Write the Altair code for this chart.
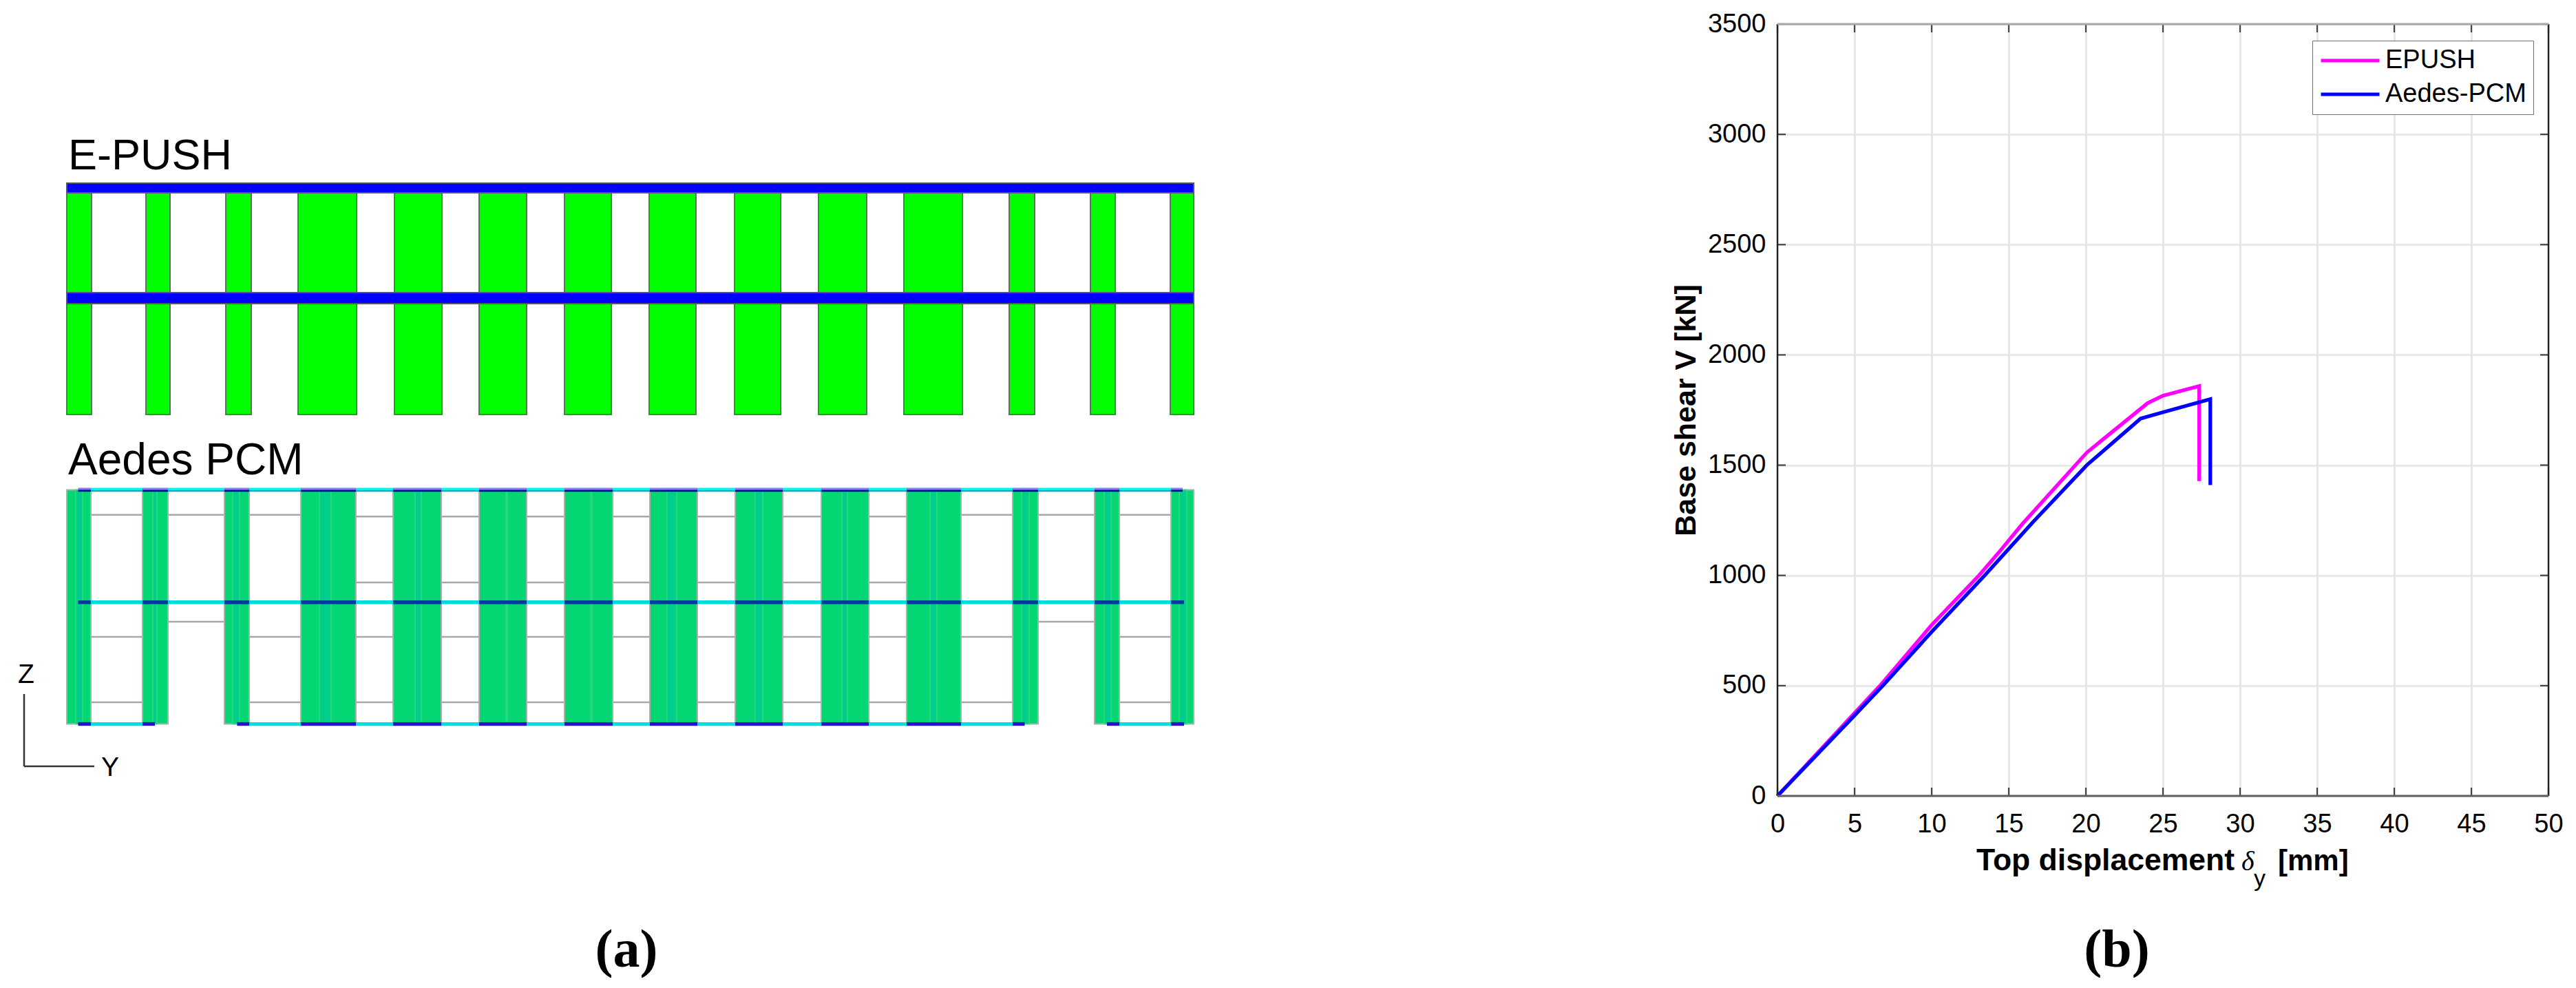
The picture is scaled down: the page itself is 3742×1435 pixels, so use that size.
import altair as alt
import pandas as pd

# ---------- values ----------
# right panel: pushover curves (mm, kN)
epush_d = [0, 6.65, 10, 13.07, 14.4, 15.9, 20.06, 24, 25, 27.35, 27.35]
epush_v = [0, 500, 775, 1000, 1108, 1235, 1557, 1781, 1815, 1859, 1428]
aedes_d = [0, 5, 6.83, 10, 13.44, 16.56, 20.06, 23.55, 25, 28.07, 28.07]
aedes_v = [0, 365, 500, 744, 1000, 1241, 1500, 1711, 1740, 1799, 1410]
x_ticks = [0, 5, 10, 15, 20, 25, 30, 35, 40, 45, 50]
y_ticks = [0, 500, 1000, 1500, 2000, 2500, 3000, 3500]

# left panel, E-PUSH elevation (picture units)
ep_left = [97, 212, 328, 433, 573, 696, 820, 943, 1067, 1189, 1313, 1466, 1584, 1700]
ep_right = [133, 247, 365, 518, 642, 765, 888, 1011, 1134, 1259, 1398, 1503, 1620, 1734]
ep_bot = [601]
ep_beam_x = [97, 1734]
ep_beam_top = [265, 424]
ep_beam_bot = [279, 440]

# left panel, Aedes PCM elevation (picture units)
ae_left = [97, 207, 326, 437, 571, 696, 820, 944, 1068, 1193, 1317, 1471, 1590, 1701]
ae_right = [132, 244, 362, 517, 641, 765, 890, 1013, 1137, 1262, 1396, 1508, 1626, 1734]
ae_top = 710.4
ae_bot = 1050.4
strip_left = [110, 222, 338, 464, 603, 735, 858, 969, 1097, 1223, 1351, 1484, 1604, 1713]
strip_right = [120, 228, 348, 481, 612, 737, 860, 983, 1108, 1231, 1361, 1495, 1614, 1724]
# lintel lines: level, span indices (span i lies between walls i and i+1)
lintels = [(746.8, [0, 1, 2, 10, 11, 12]), (749.3, [3, 4, 5, 6, 7, 8, 9]),
           (845, [3, 4, 5, 6, 7, 8, 9]), (902.1, [1, 11]),
           (923.9, [0, 2, 3, 4, 5, 6, 7, 8, 9, 10, 12]),
           (1018.9, [0, 2, 3, 4, 5, 6, 7, 8, 9, 10, 12])]
beam_top_spans = [(113.5, 1718)]
beam_mid_spans = [(113.5, 1720)]
beam_bot_spans = [(113.5, 225), (344.4, 1488.5), (1608, 1720)]

FONT = "Liberation Sans"
SERIF = "Liberation Serif"
PAD_TOP = 8
LEFT_W = 2420
LEFT_H = 1385
PY0 = 34
sx = alt.Scale(domain=[8, 8 + LEFT_W], nice=False)
sy = alt.Scale(domain=[PY0 + LEFT_H, PY0], nice=False)


def rects(rows, **kw):
    df = pd.DataFrame(rows, columns=["x", "x2", "y", "y2", "c"])
    return alt.Chart(df).mark_rect(**kw).encode(
        x=alt.X("x:Q", scale=sx, axis=None), x2="x2:Q",
        y=alt.Y("y:Q", scale=sy, axis=None), y2="y2:Q",
        color=alt.Color("c:N", scale=None, legend=None))


def segments(spans, y0, y1, light, dark):
    rows = []
    for a, b in spans:
        cursor = a
        for l, r in zip(ae_left, ae_right):
            lo, hi = max(l, a), min(r, b)
            if hi <= lo:
                continue
            if lo > cursor:
                rows.append((cursor, lo, y0, y1, light))
            rows.append((lo, hi, y0, y1, dark))
            cursor = hi
        if cursor < b:
            rows.append((cursor, b, y0, y1, light))
    return rows


def seg_lines(rows, color, width):
    df = pd.DataFrame(rows, columns=["x", "x2", "y", "y2"])
    return alt.Chart(df).mark_rule(color=color, strokeWidth=width).encode(
        x=alt.X("x:Q", scale=sx, axis=None), x2="x2:Q",
        y=alt.Y("y:Q", scale=sy, axis=None), y2="y2:Q")


def left_text(text, x, y, size, weight="normal", font=FONT, align="left"):
    df = pd.DataFrame({"t": [text], "x": [x], "y": [y]})
    return alt.Chart(df).mark_text(font=font, fontSize=size, fontWeight=weight, align=align,
                                   baseline="alphabetic", color="black").encode(
        x=alt.X("x:Q", scale=sx, axis=None), y=alt.Y("y:Q", scale=sy, axis=None), text="t:N")


ep_cols = rects([(l, r, 270, ep_bot[0], "#00ff00") for l, r in zip(ep_left, ep_right)],
                stroke="#4c7f4c", strokeWidth=2)
ep_beams = rects([(ep_beam_x[0], ep_beam_x[1], t, b, "#0000ff")
                  for t, b in zip(ep_beam_top, ep_beam_bot)],
                 stroke="#55556f", strokeWidth=2)

lintel_rows = [(ae_right[i], ae_left[i + 1], lv, lv) for lv, idx in lintels for i in idx]
ae_lintels = seg_lines(lintel_rows, "#a8a8a8", 2.5)
ae_cols = rects([(l, r, ae_top, ae_bot, "#03d672") for l, r in zip(ae_left, ae_right)],
                stroke="#aab3ab", strokeWidth=2)
ae_strips = rects([(l, r, ae_top, ae_bot, "#00cf8c") for l, r in zip(strip_left, strip_right)],
                  stroke="#2fdc7c", strokeWidth=1.5)
beam_rows = (segments(beam_top_spans, 707.5, 710.4, "#00f5f5", "#8080f0")
             + segments(beam_top_spans, 710.4, 713.2, "#00b4b4", "#0a0a9c")
             + segments(beam_mid_spans, 871, 876.4, "#00dcdc", "#003c9c")
             + segments(beam_bot_spans, 1047.9, 1053.2, "#00e0e0", "#2a10d0"))
ae_beams = rects(beam_rows)

axes_lines = seg_lines([(35, 35, 1007, 1112), (35, 137, 1112, 1112)], "#333333", 2.5)

left = alt.layer(
    ep_cols, ep_beams, ae_lintels, ae_cols, ae_strips, ae_beams, axes_lines,
    left_text("E-PUSH", 99, 245, 63),
    left_text("Aedes PCM", 99, 688, 64),
    left_text("Z", 26, 991, 39),
    left_text("Y", 147, 1126, 39),
    left_text("(a)", 910, 1403, 78, "bold", SERIF, "center"),
).properties(width=LEFT_W, height=LEFT_H)

# ---------- right panel ----------
curves = pd.DataFrame(
    [{"s": "EPUSH", "i": i, "d": d, "v": v} for i, (d, v) in enumerate(zip(epush_d, epush_v))]
    + [{"s": "Aedes-PCM", "i": i, "d": d, "v": v} for i, (d, v) in enumerate(zip(aedes_d, aedes_v))])
PW, PH = 1120, 1121
xs = alt.Scale(domain=[0, 50], nice=False)
ys = alt.Scale(domain=[0, 3500], nice=False)
x_axis = alt.Axis(values=x_ticks, grid=True, gridColor="#e2e2e2", gridWidth=2.5, ticks=False, domain=False,
                  labelFont=FONT, labelFontSize=38, labelColor="black", labelPadding=22, title=None,
                  labelFlush=False)
y_axis = alt.Axis(values=y_ticks, grid=True, gridColor="#e6e6e6", gridWidth=2.5, ticks=False, domain=False,
                  format="d", labelFont=FONT, labelFontSize=38, labelColor="black", labelPadding=17,
                  title="Base shear V [kN]", titleFont=FONT, titleFontSize=43, titleFontWeight="bold",
                  titleColor="black", titlePadding=9)

lines = alt.Chart(curves).mark_line(strokeWidth=5.3, strokeCap="butt", strokeJoin="miter", clip=False).encode(
    x=alt.X("d:Q", scale=xs, axis=x_axis),
    y=alt.Y("v:Q", scale=ys, axis=y_axis),
    order="i:Q",
    color=alt.Color("s:N",
                    scale=alt.Scale(domain=["EPUSH", "Aedes-PCM"], range=["#ff00ff", "#0000ff"]),
                    sort=["EPUSH", "Aedes-PCM"],
                    legend=alt.Legend(orient="none", legendX=777, legendY=24, title=None,
                                      symbolType="stroke", symbolSize=7225, symbolStrokeWidth=5,
                                      labelFont=FONT, labelFontSize=38, labelColor="black", labelLimit=400,
                                      strokeColor="#707070", fillColor="white", padding=10,
                                      clipHeight=38, rowPadding=11, labelOffset=6)))

xt = pd.DataFrame({"x": x_ticks})
yt = pd.DataFrame({"y": y_ticks})
tick_kw = dict(color="#444444", strokeWidth=2.2)
ticks = [
    alt.Chart(yt).mark_rule(**tick_kw).encode(y=alt.Y("y:Q", scale=ys, axis=y_axis), x=alt.value(0), x2=alt.value(12)),
    alt.Chart(yt).mark_rule(**tick_kw).encode(y=alt.Y("y:Q", scale=ys, axis=y_axis), x=alt.value(PW - 12), x2=alt.value(PW)),
    alt.Chart(xt).mark_rule(**tick_kw).encode(x=alt.X("x:Q", scale=xs, axis=x_axis), y=alt.value(0), y2=alt.value(12)),
    alt.Chart(xt).mark_rule(**tick_kw).encode(x=alt.X("x:Q", scale=xs, axis=x_axis), y=alt.value(PH - 12), y2=alt.value(PH)),
]
box_df = pd.DataFrame({"k": [0]})
def edge(color, width, **enc):
    return alt.Chart(box_df).mark_rule(color=color, strokeWidth=width).encode(**enc)
box = [
    edge("#222222", 2.4, x=alt.value(0), y=alt.value(0), y2=alt.value(PH)),
    edge("#222222", 2.4, x=alt.value(PW), y=alt.value(0), y2=alt.value(PH)),
    edge("#a8a8a8", 3, y=alt.value(0), x=alt.value(0), x2=alt.value(PW)),
    edge("#606060", 3, y=alt.value(PH), x=alt.value(0), x2=alt.value(PW)),
]


def right_text(text, x, y, size, weight="normal", style="normal", font=FONT, align="left"):
    df = pd.DataFrame({"t": [text]})
    return alt.Chart(df).mark_text(font=font, fontSize=size, fontWeight=weight, fontStyle=style, align=align,
                                   baseline="alphabetic", color="black").encode(
        x=alt.value(x), y=alt.value(y), text="t:N")


PX0 = 2584
texts = [
    right_text("Top displacement", 2873 - PX0, 1263 - PY0, 44.5, "bold"),
    right_text("δ", 3258 - PX0, 1263 - PY0, 40, "normal", "italic", SERIF),
    right_text("y", 3276 - PX0, 1286 - PY0, 34, "normal"),
    right_text("[mm]", 3311 - PX0, 1263 - PY0, 42, "bold"),
    right_text("(b)", 3077 - PX0, 1403 - PY0, 78, "bold", "normal", SERIF, "center"),
]

right = alt.layer(lines, *ticks, *box, *texts).properties(width=PW, height=PH)

chart = (alt.hconcat(left, right, spacing=0)
         .resolve_scale(color="independent")
         .resolve_legend(color="independent")
         .properties(padding={"left": 0, "top": PAD_TOP, "right": 0, "bottom": 0}, background="white")
         .configure_view(stroke=None))
chart.save("out.html", embed_options={"renderer": "svg", "actions": False})
